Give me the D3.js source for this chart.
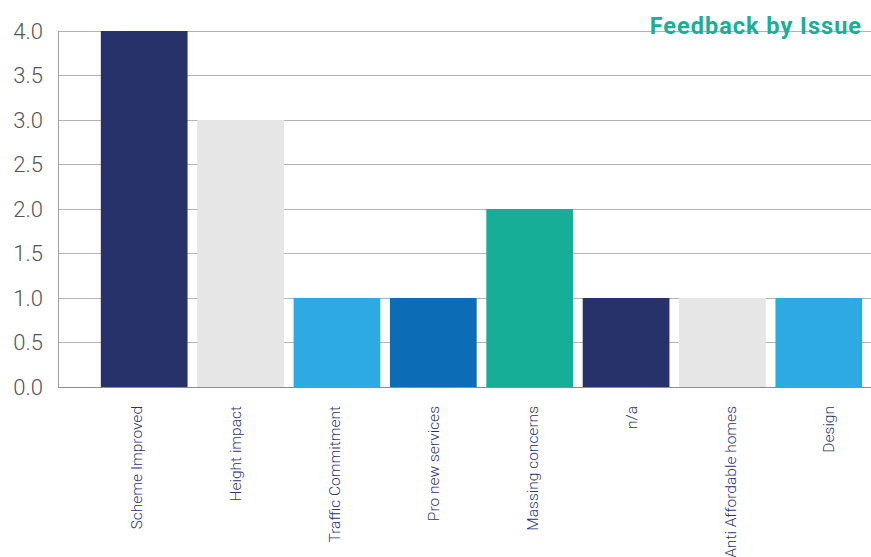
<!DOCTYPE html>
<html><head><meta charset="utf-8">
<script src="https://cdn.jsdelivr.net/npm/d3@7"></script>
<style>body{margin:0;background:#fff}svg{display:block}</style>
</head><body>
<svg id="c" width="871" height="557"></svg>
<script>
const categories = ["Scheme Improved","Height impact","Traffic Commitment","Pro new services","Massing concerns","n/a","Anti Affordable homes","Design"];
const values = [4,3,1,1,2,1,1,1];
const colors = ["#27326b","#e6e6e6","#2eaae2","#0c6db6","#17ae97","#27326b","#e6e6e6","#2eaae2"];
const yTicks = [0,0.5,1,1.5,2,2.5,3,3.5,4];
const title = "Feedback by Issue";

(function(){
const svg = d3.select("#c");
const mLeft = 58, mRight = 871, mTop = 31, mBottom = 387;
const x = d3.scaleBand().domain(categories).range([96,867]).paddingInner(0.1).paddingOuter(0.05);
const xl = d3.scalePoint().domain(categories).range([137,829]);
const y = d3.scaleLinear().domain([0,4]).range([mBottom, mTop]);

svg.append("g").selectAll("line").data(yTicks.filter(d=>d>0)).join("line")
  .attr("x1", mLeft).attr("x2", mRight).attr("y1", d=>y(d)).attr("y2", d=>y(d))
  .attr("stroke","#b3b3b3").attr("stroke-width",1).attr("shape-rendering","crispEdges");
svg.append("line").attr("x1",mLeft).attr("x2",mRight).attr("y1",y(0)).attr("y2",y(0)).attr("stroke","#8c8c8c").attr("shape-rendering","crispEdges");
svg.append("line").attr("x1",mLeft).attr("x2",mLeft).attr("y1",y(4)).attr("y2",y(0)).attr("stroke","#a0a0a0").attr("shape-rendering","crispEdges");

svg.append("g").selectAll("rect").data(values).join("rect")
  .attr("x",(d,i)=>x(categories[i])).attr("width",x.bandwidth())
  .attr("y",d=>y(d)).attr("height",d=>y(0)-y(d))
  .attr("fill",(d,i)=>colors[i]);

svg.append("g").selectAll("text").data(yTicks).join("text")
  .attr("x",43).attr("y",d=>y(d)).attr("dy","0.36em")
  .attr("text-anchor","end").attr("font-family","Roboto").attr("font-weight",300)
  .attr("font-size",22).attr("fill","#555").text(d=>d.toFixed(1));

svg.append("g").selectAll("text").data(categories).join("text")
  .attr("transform",d=>`translate(${xl(d)},406) rotate(-90)`)
  .attr("dy","0.35em").attr("text-anchor","end")
  .attr("font-family","Roboto").attr("font-weight",300).attr("font-size",15.5)
  .attr("fill","#2a3370").text(d=>d);

svg.append("text").attr("x",862).attr("y",34).attr("text-anchor","end")
  .attr("font-family","Roboto").attr("font-weight",700).attr("font-size",23.5)
  .attr("letter-spacing","1px")
  .attr("fill","#1aae96").text(title);
})();
</script>
</body></html>
